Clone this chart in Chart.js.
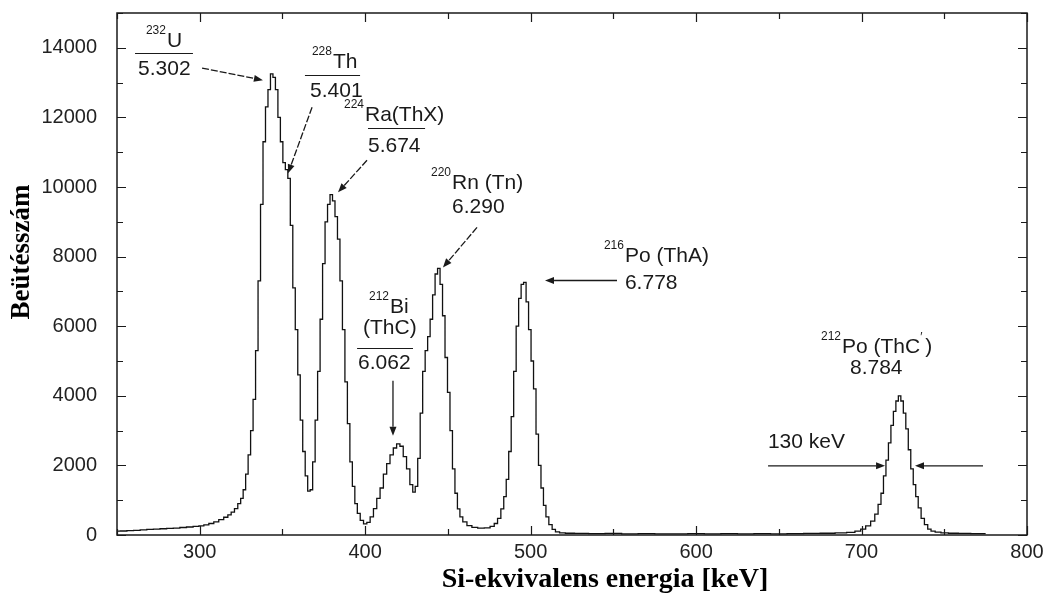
<!DOCTYPE html>
<html>
<head>
<meta charset="utf-8">
<script src="https://cdn.jsdelivr.net/npm/chart.js"></script>
<style>
  html, body { margin: 0; background: #fff; }
</style>
</head>
<body>
<canvas id="spectrum" width="1052" height="595"></canvas>
<script>
// Si-equivalent energy [keV] and counts
const energy = [
  250, 254, 258, 262, 266, 270, 274, 278, 282, 286, 290, 294, 298, 301, 304, 307, 310, 313, 316, 318,
  320, 322, 324, 325.5, 327, 328.5, 330, 331.5, 333, 334.5, 336, 337.5, 339, 340.5, 342, 343.5, 345, 346.5, 348, 349.5,
  351, 352.5, 354, 355.5, 357, 358.5, 360, 361.5, 363, 364.5, 366, 367.5, 369, 370.5, 372, 373.5, 375, 376.5, 378, 379.5,
  381, 382.5, 384, 385.5, 387, 388.5, 390, 391.5, 393, 394.5, 396, 398, 400, 402, 404, 406, 408, 410, 412, 414,
  416, 418, 420, 422, 424, 426, 428, 429.5, 431, 432.5, 434, 435.5, 437, 438.5, 440, 441.5, 443, 444.5, 446, 447.5,
  449, 450.5, 452, 453.5, 455, 456.5, 458, 460, 463, 466, 470, 474, 477, 479, 481, 483, 484.5, 486, 487.5, 489,
  490.5, 492, 493.5, 495, 496.5, 498, 499.5, 501, 502.5, 504, 505.5, 507, 508.5, 510, 512, 514, 516, 519, 523, 530,
  540, 550, 560, 570, 580, 590, 600, 610, 620, 630, 640, 650, 660, 670, 680, 688, 694, 698, 701, 704,
  707, 709, 711, 712.5, 714, 715.5, 717, 718.5, 720, 721.5, 723, 724.5, 726, 727.5, 729, 730.5, 732, 733.5, 735, 737,
  739, 741, 743, 746, 750, 755, 762, 770, 775
];
const counts = [
  110, 115, 125, 135, 145, 160, 170, 180, 190, 200, 215, 230, 245, 265, 290, 330, 380, 440, 510, 580,
  660, 760, 900, 1050, 1300, 1750, 2300, 3000, 3900, 5300, 7300, 9500, 11300, 12300, 12800, 13250, 13150, 12800, 12000, 11300,
  10700, 10500, 10250, 8900, 7100, 5900, 4600, 3300, 2400, 1700, 1260, 1300, 2100, 3300, 4700, 6200, 7800, 9000, 9500, 9780,
  9600, 9150, 8500, 7300, 5900, 4400, 3200, 2100, 1400, 900, 620, 420, 320, 360, 520, 760, 1050, 1350, 1750, 2050,
  2300, 2500, 2620, 2550, 2250, 1900, 1450, 1230, 1400, 2200, 3500, 4700, 5300, 5700, 6200, 6900, 7500, 7660, 7200, 6300,
  5100, 4100, 3000, 1900, 1200, 750, 520, 380, 270, 220, 200, 205, 250, 330, 480, 750, 1100, 1600, 2400, 3400,
  4700, 6000, 6800, 7200, 7260, 6700, 5900, 5000, 4200, 2900, 2000, 1350, 850, 520, 300, 160, 90, 60, 50, 45,
  40, 45, 35, 40, 30, 35, 40, 35, 40, 35, 40, 35, 40, 45, 50, 60, 75, 110, 170, 260,
  400, 600, 880, 1200, 1700, 2150, 2650, 3150, 3550, 3850, 4000, 3850, 3500, 3050, 2450, 1900, 1450, 1100, 780, 480,
  300, 170, 110, 80, 60, 50, 45, 40, 40
];

// axis tick labels
const xTickValues = [300, 400, 500, 600, 700, 800];
const yTickValues = [0, 2000, 4000, 6000, 8000, 10000, 12000, 14000];

// isotope labels: [mass number, name, energy at left of name, count at baseline]
const isotopeLabels = [
  ['232', 'U', 280.2, 14021],
  ['228', 'Th', 380.5, 13416],
  ['224', 'Ra(ThX)', 399.9, 11890],
  ['220', 'Rn (Tn)', 452.5, 9933],
  ['212', 'Bi', 415.0, 6391],
  ['216', 'Po (ThA)', 557.0, 7831],
  ['212', 'Po (ThC', 688.2, 5240]
];
// plain text lines: [text, energy at left, count at baseline]
const textLabels = [
  ['5.302', 262.7, 13215],
  ['5.401', 366.7, 12581],
  ['5.674', 401.7, 10998],
  ['6.290', 452.5, 9242],
  ['(ThC)', 398.7, 5787],
  ['6.062', 395.7, 4779],
  ['6.778', 557.0, 7082],
  ['8.784', 693.0, 4635],
  ['130 keV', 643.4, 2505]
];
// fraction bars: [from energy, to energy, count]
const fractionBars = [
  [260.9, 295.9, 13848],
  [363.6, 396.9, 13215],
  [401.7, 436.2, 11688],
  [395.1, 428.9, 5384]
];
// arrows: [from E, from C, to E, to C, dashed]
const arrows = [
  [301.4, 13416, 338.2, 13071, true],
  [367.9, 12293, 353.4, 10393, true],
  [401.1, 10767, 383.6, 9846, true],
  [467.6, 8839, 447.0, 7687, true],
  [416.8, 4434, 416.8, 2850, false],
  [552.2, 7313, 508.7, 7313, false],
  [643.5, 1987, 714.2, 1987, false],
  [773.4, 1987, 732.3, 1987, false]
];

const INK = '#1a1a1a';

function arrow(ctx, x1, y1, x2, y2, dashed) {
  const ang = Math.atan2(y2 - y1, x2 - x1);
  const len = 9, half = 3.5;
  const bx = x2 - len * Math.cos(ang), by = y2 - len * Math.sin(ang);
  ctx.save();
  ctx.lineWidth = 1.3;
  ctx.setLineDash(dashed ? [7, 2] : []);
  ctx.beginPath();
  ctx.moveTo(x1, y1);
  ctx.lineTo(bx, by);
  ctx.stroke();
  ctx.setLineDash([]);
  ctx.beginPath();
  ctx.moveTo(x2, y2);
  ctx.lineTo(bx + half * Math.sin(ang), by - half * Math.cos(ang));
  ctx.lineTo(bx - half * Math.sin(ang), by + half * Math.cos(ang));
  ctx.closePath();
  ctx.fill();
  ctx.restore();
}

const inkPlugin = {
  id: 'ink',
  afterDraw(chart) {
    const {ctx, chartArea: a, scales: {x, y}} = chart;
    ctx.save();
    ctx.strokeStyle = INK;
    ctx.fillStyle = INK;

    // frame
    ctx.lineWidth = 1.5;
    ctx.strokeRect(a.left, a.top, a.right - a.left, a.bottom - a.top);

    // inward ticks on all four sides
    ctx.lineWidth = 1.2;
    ctx.beginPath();
    for (let v = 250; v <= 800; v += 50) {
      const px = Math.round(x.getPixelForValue(v)) + 0.5;
      const l = v % 100 === 0 ? 9 : 6;
      ctx.moveTo(px, a.bottom); ctx.lineTo(px, a.bottom - l);
      ctx.moveTo(px, a.top); ctx.lineTo(px, a.top + l);
    }
    for (let v = 0; v <= 15000; v += 1000) {
      const py = Math.round(y.getPixelForValue(v)) + 0.5;
      const l = v % 2000 === 0 ? 9 : 6;
      ctx.moveTo(a.left, py); ctx.lineTo(a.left + l, py);
      ctx.moveTo(a.right, py); ctx.lineTo(a.right - l, py);
    }
    ctx.stroke();

    // annotations
    ctx.textBaseline = 'alphabetic';
    for (const [sup, name, e, c] of isotopeLabels) {
      const px = x.getPixelForValue(e), py = y.getPixelForValue(c);
      ctx.font = '21px "Liberation Sans", Arial, sans-serif';
      ctx.textAlign = 'left';
      ctx.fillText(name, px, py);
      const end = px + ctx.measureText(name).width;
      ctx.font = '12px "Liberation Sans", Arial, sans-serif';
      ctx.textAlign = 'right';
      ctx.fillText(sup, px - 1, py - 13);
      if (name === 'Po (ThC') {
        ctx.textAlign = 'left';
        ctx.fillText('\u2032', end, py - 12);
        ctx.font = '21px "Liberation Sans", Arial, sans-serif';
        ctx.fillText(')', end + 5, py);
      }
    }
    ctx.font = '21px "Liberation Sans", Arial, sans-serif';
    ctx.textAlign = 'left';
    for (const [t, e, c] of textLabels) {
      ctx.fillText(t, x.getPixelForValue(e), y.getPixelForValue(c));
    }
    ctx.lineWidth = 1.2;
    for (const [e1, e2, c] of fractionBars) {
      const py = Math.round(y.getPixelForValue(c)) + 0.5;
      ctx.beginPath();
      ctx.moveTo(x.getPixelForValue(e1), py);
      ctx.lineTo(x.getPixelForValue(e2), py);
      ctx.stroke();
    }
    for (const [e1, c1, e2, c2, d] of arrows) {
      arrow(ctx, x.getPixelForValue(e1), y.getPixelForValue(c1),
            x.getPixelForValue(e2), y.getPixelForValue(c2), d);
    }

    // axis titles
    ctx.fillStyle = '#000';
    ctx.font = 'bold 28px "Liberation Serif", "Times New Roman", serif';
    ctx.textAlign = 'center';
    ctx.textBaseline = 'middle';
    ctx.fillText('Si-ekvivalens energia [keV]', 605, 580);
    ctx.translate(22, 252);
    ctx.rotate(-Math.PI / 2);
    ctx.font = 'bold 27px "Liberation Serif", "Times New Roman", serif';
    ctx.fillText('Beütésszám', 0, 0);
    ctx.restore();
  }
};

const tickFont = {family: '"Liberation Sans", Arial, sans-serif', size: 20};

new Chart(document.getElementById('spectrum'), {
  type: 'line',
  data: {
    datasets: [{
      data: energy.map((e, i) => ({x: e, y: counts[i]})),
      borderColor: '#111',
      borderWidth: 1.3,
      stepped: 'middle',
      pointRadius: 0,
      fill: false
    }]
  },
  options: {
    responsive: false,
    animation: false,
    layout: {padding: {top: 13, right: 25, left: 0, bottom: 0}},
    plugins: {legend: {display: false}, tooltip: {enabled: false}},
    scales: {
      x: {
        type: 'linear',
        min: 250,
        max: 800,
        grid: {display: false, drawTicks: false},
        border: {display: false},
        afterBuildTicks(s) { s.ticks = xTickValues.map(v => ({value: v})); },
        afterFit(s) { s.height = 60; s.paddingLeft = 0; s.paddingRight = 0; },
        ticks: {padding: 5, color: '#222', font: tickFont, callback: v => String(v)}
      },
      y: {
        min: 0,
        max: 15000,
        grid: {display: false, drawTicks: false},
        border: {display: false},
        afterBuildTicks(s) { s.ticks = yTickValues.map(v => ({value: v})); },
        afterFit(s) { s.width = 117; s.paddingTop = 0; s.paddingBottom = 0; },
        ticks: {padding: 20, color: '#222', font: tickFont, callback: v => String(v)}
      }
    }
  },
  plugins: [inkPlugin]
});
</script>
</body>
</html>
